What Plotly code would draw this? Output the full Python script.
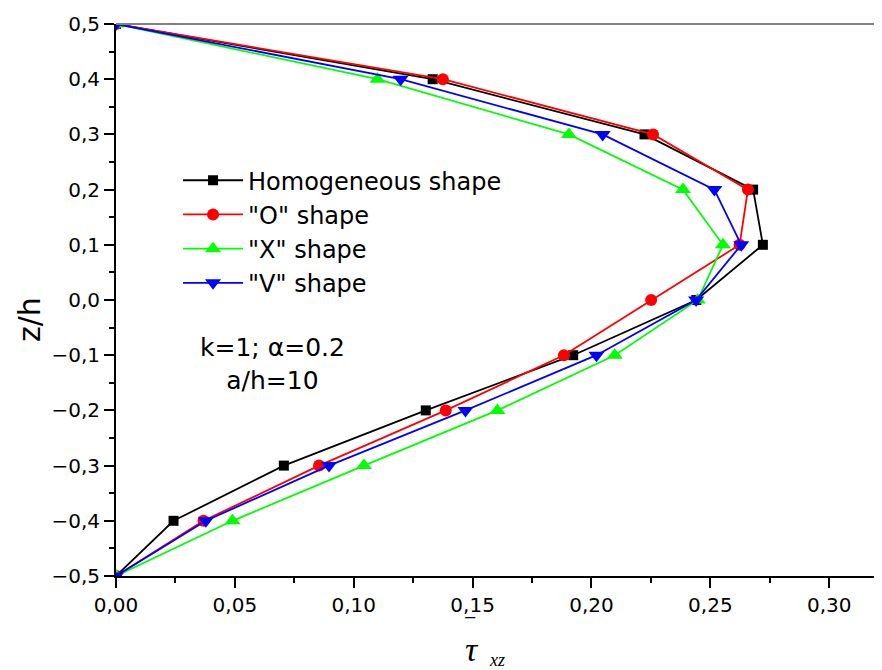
import plotly.graph_objects as go

z = [-0.5, -0.4, -0.3, -0.2, -0.1, 0.0, 0.1, 0.2, 0.3, 0.4, 0.5]
homogeneous = [0.0, 0.0242, 0.0706, 0.1303, 0.1923, 0.2441, 0.2721, 0.2680, 0.2223, 0.1332, 0.0]
o_shape = [0.0, 0.0368, 0.0854, 0.1387, 0.1884, 0.2251, 0.2623, 0.2658, 0.2259, 0.1375, 0.0]
x_shape = [0.0, 0.0490, 0.1043, 0.1604, 0.2098, 0.2447, 0.2553, 0.2385, 0.1905, 0.1100, 0.0]
v_shape = [0.0, 0.0378, 0.0896, 0.1470, 0.2021, 0.2440, 0.2630, 0.2517, 0.2047, 0.1197, 0.0]

series = [
    ("Homogeneous shape", homogeneous, "#000000", "square", 10),
    ('"O" shape', o_shape, "#FF0000", "circle", 12),
    ('"X" shape', x_shape, "#00FF00", "triangle-up", 14),
    ('"V" shape', v_shape, "#0000FF", "triangle-down", 14),
]

fig = go.Figure()
for name, vals, col, sym, sz in series:
    fig.add_trace(go.Scatter(
        x=vals, y=z, mode="lines+markers", name=name,
        line=dict(color=col, width=1.8),
        marker=dict(symbol=sym, size=sz, color=col),
    ))

axis_font = dict(family="DejaVu Sans", size=20, color="#000000")

fig.update_layout(
    width=874, height=662,
    margin=dict(l=108, r=0, t=16, b=94, autoexpand=False),
    paper_bgcolor="white", plot_bgcolor="white",
    separators=",.",
    font=dict(family="DejaVu Sans", color="#000000"),
    showlegend=True,
    legend=dict(
        x=0.081, y=0.757, xanchor="left", yanchor="top",
        bgcolor="rgba(0,0,0,0)",
        font=dict(family="DejaVu Sans", size=24, color="#000000"),
        tracegroupgap=0, itemwidth=60,
    ),
    xaxis=dict(
        range=[0, 0.3222], tickvals=[0, 0.05, 0.10, 0.15, 0.20, 0.25, 0.30],
        tickformat=".2f", showgrid=False, zeroline=False, automargin=False,
        showline=True, linecolor="#000000", linewidth=2,
        ticks="outside", ticklen=10, tickwidth=2, tickcolor="#000000",
        tickfont=axis_font,
        minor=dict(ticks="outside", ticklen=5, tickwidth=2, tickcolor="#000000", dtick=0.025, tick0=0, showgrid=False),
    ),
    yaxis=dict(
        range=[-0.5, 0.5], dtick=0.1, tick0=-0.5,
        tickformat=".1f", showgrid=False, zeroline=False, automargin=False,
        showline=True, linecolor="#000000", linewidth=2,
        ticks="outside", ticklen=10, tickwidth=2, tickcolor="#000000",
        tickfont=axis_font,
        minor=dict(ticks="outside", ticklen=5, tickwidth=2, tickcolor="#000000", dtick=0.05, tick0=-0.5, showgrid=False),
    ),
)

# gray top frame line
fig.add_shape(type="line", xref="paper", yref="paper", x0=0, x1=1, y0=1, y1=1,
              line=dict(color="#808080", width=2))

# y-axis title
fig.add_annotation(xref="paper", yref="paper", x=-0.112, y=0.464, showarrow=False,
                   text="z/h", textangle=-90, xanchor="center", yanchor="middle",
                   font=dict(family="DejaVu Sans", size=30, color="#000000"))

fig.add_annotation(xref="paper", yref="paper", x=0.2037, y=0.384, showarrow=False,
                   text="k=1; α=0.2<br>a/h=10", align="center", xanchor="center", yanchor="middle",
                   font=dict(family="DejaVu Sans", size=25, color="#000000"))

# x-axis title: tau with overbar and subscript xz
fig.add_annotation(xref="paper", yref="paper", x=0.4648, y=-0.134, showarrow=False,
                   text="<i>τ</i>", xanchor="center", yanchor="middle",
                   font=dict(family="Liberation Serif, Times New Roman", size=34, color="#000000"))
fig.add_annotation(xref="paper", yref="paper", x=0.497, y=-0.152, showarrow=False,
                   text="<i>xz</i>", xanchor="center", yanchor="middle",
                   font=dict(family="Liberation Serif, Times New Roman", size=18, color="#000000"))
fig.add_annotation(xref="paper", yref="paper", x=0.462, y=-0.076, showarrow=False,
                   text="−", xanchor="center", yanchor="middle",
                   font=dict(family="Liberation Serif, Times New Roman", size=22, color="#000000"))

fig.write_html("out.html")
